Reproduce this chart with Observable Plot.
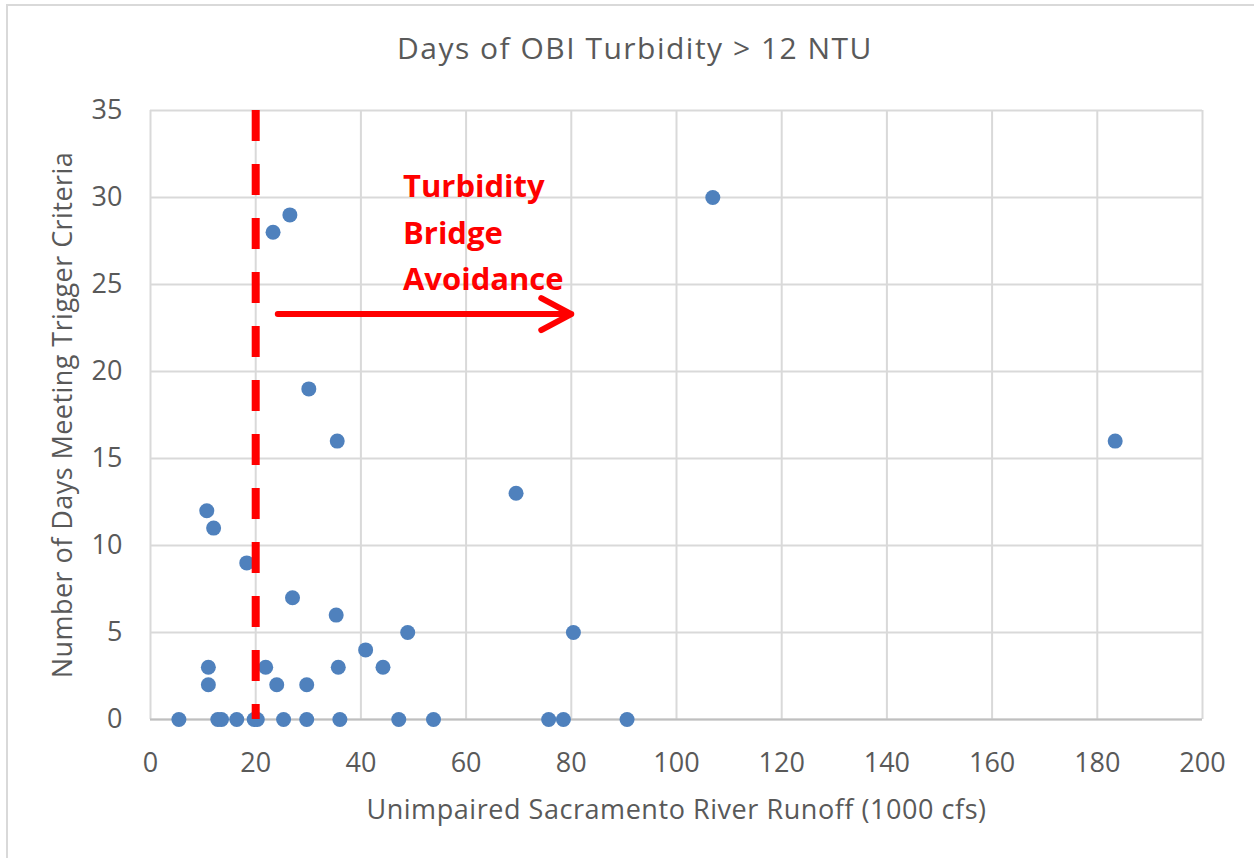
<!DOCTYPE html>
<html>
<head>
<meta charset="utf-8">
<script src="https://cdn.jsdelivr.net/npm/d3@7"></script>
<script src="https://cdn.jsdelivr.net/npm/@observablehq/plot@0.6"></script>
<style>
  html, body { margin: 0; padding: 0; background: #fff; }
  #wrap { position: relative; width: 1254px; height: 858px; overflow: hidden; font-family: "Open Sans", sans-serif; }
  #border { position: absolute; left: 6px; top: 4px; width: 1300px; height: 900px; border-left: 2px solid #d9d9d9; border-top: 2px solid #d9d9d9; }
  #title { position: absolute; left: 8px; top: 0; width: 1254px; height: 80px; line-height: 96px; text-align: center; font-size: 30px; color: #595959; letter-spacing: 1.5px; }
  #chart { position: absolute; left: 0; top: 80px; }
</style>
</head>
<body>
<div id="wrap">
  <div id="border"></div>
  <div id="title">Days of OBI Turbidity &gt; 12 NTU</div>
  <div id="chart"></div>
</div>
<script>
// Unimpaired Sacramento River runoff (1000 cfs) for each year
const runoff = [5.4, 12.8, 13.5, 16.4, 19.7, 20.3, 25.3, 29.7, 36.0, 47.2, 53.8, 75.7, 78.5, 90.6,
                10.7, 12.0, 18.3, 11.0, 11.0, 21.9, 24.0, 29.7, 27.0, 35.3, 35.7, 40.9, 44.2, 48.9,
                80.4, 69.5, 106.9, 183.4, 26.5, 23.3, 30.1, 35.5];
// Number of days meeting trigger criteria
const days   = [0, 0, 0, 0, 0, 0, 0, 0, 0, 0, 0, 0, 0, 0,
                12, 11, 9, 3, 2, 3, 2, 2, 7, 6, 3, 4, 3, 5,
                5, 13, 30, 16, 29, 28, 19, 16];
const xTicks = [0, 20, 40, 60, 80, 100, 120, 140, 160, 180, 200];
const yTicks = [0, 5, 10, 15, 20, 25, 30, 35];
const xLabel = "Unimpaired Sacramento River Runoff (1000 cfs)";
const yLabel = "Number of Days Meeting Trigger Criteria";
const threshold = [20];
const arrowFrom = [24.2];
const arrowTo = [80];
const arrowLevel = [23.3];
const noteLines = ["Turbidity", "Bridge", "Avoidance"];
const noteX = [48];
const noteY = [28.2];

const points = runoff.map((x, i) => ({x, y: days[i]}));
const arrows = arrowFrom.map((x1, i) => ({x1, x2: arrowTo[i], y: arrowLevel[i]}));
const notes = noteX.map((x, i) => ({x, y: noteY[i], text: noteLines.join("\n")}));

const chart = Plot.plot({
  width: 1254,
  height: 778,
  marginLeft: 150,
  marginRight: 52,
  marginTop: 30,
  marginBottom: 139,
  style: {fontFamily: "Open Sans, sans-serif", fontSize: "27px", color: "#595959", background: "transparent", overflow: "visible"},
  x: {domain: [0, 200], ticks: xTicks, tickSize: 0, tickPadding: 33,
      label: xLabel, labelAnchor: "center", labelOffset: 99, labelArrow: "none"},
  y: {domain: [0, 35], ticks: yTicks, tickSize: 0, tickPadding: 28,
      label: yLabel, labelAnchor: "center", labelOffset: 98, labelArrow: "none"},
  marks: [
    Plot.ruleX(xTicks, {stroke: "#d9d9d9", strokeWidth: 2}),
    Plot.ruleY(yTicks, {stroke: "#d9d9d9", strokeWidth: 2}),
    Plot.ruleY([0], {stroke: "#bfbfbf", strokeWidth: 2}),
    Plot.dot(points, {x: "x", y: "y", r: 7.5, fill: "#4f81bd", stroke: "none"}),
    Plot.ruleX(threshold, {y1: 35, y2: 0, stroke: "#ff0000", strokeWidth: 8, strokeDasharray: "31,23"}),
    Plot.arrow(arrows, {x1: "x1", x2: "x2", y1: "y", y2: "y", stroke: "#ff0000", strokeWidth: 6,
                        headAngle: 56, headLength: 8.5, bend: 0}),
    Plot.text(notes, {x: "x", y: "y", text: "text", textAnchor: "start", lineAnchor: "middle",
                      lineHeight: 1.5, fill: "#ff0000", fontWeight: "bold", fontSize: 31})
  ]
});
d3.select(chart).selectAll("text")
  .filter(function() { return this.textContent === xLabel; })
  .style("letter-spacing", "0.55px");
d3.select(chart).selectAll("text")
  .filter(function() { return this.textContent === yLabel; })
  .style("letter-spacing", "0.45px");
document.getElementById("chart").appendChild(chart);
</script>
</body>
</html>
